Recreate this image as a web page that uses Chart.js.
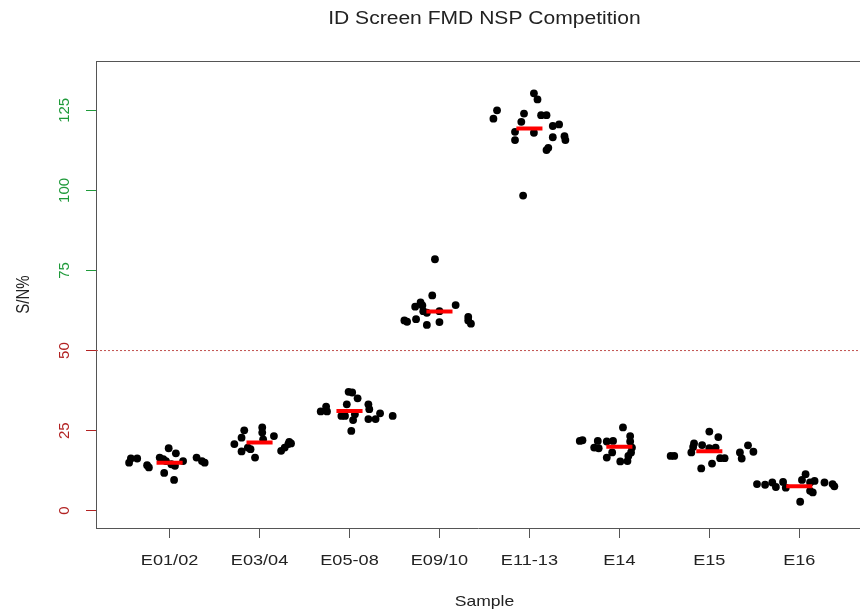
<!DOCTYPE html>
<html>
<head>
<meta charset="utf-8">
<script src="https://cdn.jsdelivr.net/npm/chart.js@4.4.0/dist/chart.umd.min.js"></script>
<style>
  html, body { margin: 0; padding: 0; background: #fff; }
  #wrap { width: 860px; height: 612px; }
</style>
</head>
<body>
<div id="wrap"><canvas id="stripChart" width="860" height="612"></canvas></div>
<script>
'use strict';

// categories and reference values
var samples = ['E01/02', 'E03/04', 'E05-08', 'E09/10', 'E11-13', 'E14', 'E15', 'E16'];
var yTicks = [0, 25, 50, 75, 100, 125];
var cutoff = 50;
var medians = [15.0, 21.3, 31.1, 62.2, 119.3, 20.0, 18.6, 7.6];

// S/N% per sample, and the horizontal jitter of each dot (in category units)
var snE0102 = [15.0, 16.3, 16.3, 14.2, 13.5, 16.6, 16.1, 15.5, 19.5, 17.9, 14.5, 14.0, 11.8, 9.6, 15.5, 16.6, 15.5, 15.0];
var jitE0102 = [-0.45, -0.43, -0.36, -0.25, -0.23, -0.11, -0.07, -0.04, -0.01, 0.07, 0.02, 0.06, -0.06, 0.05, 0.15, 0.30, 0.36, 0.39];

var snE0304 = [20.8, 22.8, 25.1, 18.5, 19.7, 19.2, 16.6, 26.0, 24.4, 22.3, 23.3, 18.7, 19.7, 20.8, 21.5, 21.0];
var jitE0304 = [-0.28, -0.20, -0.17, -0.20, -0.13, -0.10, -0.05, 0.03, 0.03, 0.04, 0.16, 0.24, 0.28, 0.32, 0.33, 0.35];

var snE0508 = [31.0, 32.5, 31.0, 33.2, 29.6, 29.6, 37.1, 36.9, 35.1, 30.1, 28.3, 24.9, 33.2, 31.7, 28.6, 28.6, 30.4, 29.6];
var jitE0508 = [-0.32, -0.26, -0.25, -0.03, -0.09, -0.05, -0.01, 0.03, 0.09, 0.06, 0.04, 0.02, 0.21, 0.22, 0.21, 0.29, 0.34, 0.48];

var snE0910 = [78.5, 67.2, 65.0, 64.1, 63.7, 62.3, 61.8, 62.3, 64.2, 59.4, 59.0, 59.8, 58.0, 58.9, 60.5, 59.4, 58.4];
var jitE0910 = [-0.05, -0.08, -0.21, -0.19, -0.27, -0.18, -0.14, 0.00, 0.18, -0.39, -0.36, -0.26, -0.14, 0.00, 0.32, 0.32, 0.35];

var snE1113 = [130.3, 128.4, 125.0, 122.4, 124.0, 121.4, 118.3, 115.7, 118.0, 123.5, 123.5, 120.1, 120.6, 116.6, 116.9, 115.7, 113.3, 112.6, 98.4];
var jitE1113 = [0.05, 0.09, -0.36, -0.40, -0.06, -0.09, -0.16, -0.16, 0.05, 0.13, 0.19, 0.26, 0.33, 0.26, 0.39, 0.40, 0.21, 0.19, -0.07];

var snE14 = [21.8, 22.0, 19.7, 21.8, 19.5, 21.6, 21.8, 18.2, 16.6, 26.0, 23.3, 21.6, 19.7, 18.2, 17.1, 15.4, 15.5];
var jitE14 = [-0.44, -0.41, -0.28, -0.24, -0.23, -0.14, -0.07, -0.08, -0.14, 0.04, 0.12, 0.12, 0.14, 0.13, 0.10, 0.01, 0.09];

var snE15 = [17.1, 17.1, 18.2, 19.9, 21.0, 20.5, 24.7, 23.0, 19.5, 19.7, 16.4, 16.4, 14.7, 13.2, 18.2, 16.3, 20.4, 18.4];
var jitE15 = [-0.43, -0.39, -0.20, -0.18, -0.17, -0.08, 0.00, 0.10, 0.00, 0.07, 0.12, 0.17, 0.03, -0.09, 0.34, 0.36, 0.43, 0.49];

var snE16 = [8.3, 8.1, 8.8, 7.4, 9.0, 7.2, 11.4, 9.6, 8.8, 9.3, 6.2, 5.7, 2.8, 8.8, 8.3, 7.6];
var jitE16 = [-0.47, -0.38, -0.30, -0.26, -0.18, -0.15, 0.07, 0.03, 0.12, 0.17, 0.12, 0.15, 0.01, 0.28, 0.37, 0.39];

var groupValues = [snE0102, snE0304, snE0508, snE0910, snE1113, snE14, snE15, snE16];
var groupJitter = [jitE0102, jitE0304, jitE0508, jitE0910, jitE1113, jitE14, jitE15, jitE16];

var FONT = '"Liberation Sans", Arial, Helvetica, sans-serif';
var RED = '#b22222';
var GREEN = '#1f9a3a';
var BOX = '#555555';
var STRETCH = 1.17;   // the reference text is drawn a bit wide
var xMin = -0.818, xMax = 7.675;
var medHalf = 0.145;

var dots = [];
for (var i = 0; i < groupValues.length; i++) {
	for (var k = 0; k < groupValues[i].length; k++) {
		dots.push({ x: i + groupJitter[i][k], y: groupValues[i][k] });
	}
}

var medianSegs = [];
medians.forEach(function (m, i) {
	medianSegs.push({ x: i - medHalf, y: m });
	medianSegs.push({ x: i + medHalf, y: m });
	medianSegs.push({ x: i + medHalf, y: null });
});

function wideText(c, txt, x, y) {
	c.save();
	c.translate(x, y);
	c.scale(STRETCH, 1);
	c.fillText(txt, 0, 0);
	c.restore();
}

// title, tick labels, axis titles and top edge of the box
var decorations = {
	id: 'decorations',
	afterDraw: function (chart) {
		var c = chart.ctx, area = chart.chartArea;
		var xs = chart.scales.x, ys = chart.scales.y;
		var boxCenter = (area.left + xs.getPixelForValue(samples.length - 1 - xMin)) / 2;
		c.save();
		c.strokeStyle = BOX;
		c.lineWidth = 1;
		c.beginPath();
		c.moveTo(area.left, Math.round(area.top) + 0.5);
		c.lineTo(area.right, Math.round(area.top) + 0.5);
		c.stroke();

		c.textAlign = 'center';
		c.textBaseline = 'middle';
		c.font = '15px ' + FONT;
		yTicks.forEach(function (v) {
			c.save();
			c.translate(65, ys.getPixelForValue(v));
			c.rotate(-Math.PI / 2);
			c.fillStyle = v > cutoff ? GREEN : RED;
			c.fillText(String(v), 0, 0);
			c.restore();
		});

		c.fillStyle = '#222';
		c.font = '15.5px ' + FONT;
		samples.forEach(function (s, i) {
			wideText(c, s, xs.getPixelForValue(i), 561);
		});

		c.font = '18px ' + FONT;
		wideText(c, 'ID Screen FMD NSP Competition', boxCenter, 19);
		c.font = '15px ' + FONT;
		wideText(c, 'Sample', boxCenter, 602);
		c.save();
		c.translate(24, (area.top + area.bottom) / 2);
		c.rotate(-Math.PI / 2);
		c.scale(1, STRETCH);
		c.fillText('S/N%', 0, 0);
		c.restore();
		c.restore();
	}
};

var ctx = document.getElementById('stripChart').getContext('2d');
var chart = new Chart(ctx, {
	type: 'scatter',
	data: {
		datasets: [{
			type: 'line',
			label: 'median',
			data: medianSegs,
			borderColor: '#ff0000',
			borderWidth: 4,
			borderCapStyle: 'butt',
			pointRadius: 0,
			spanGaps: false,
			fill: false
		}, {
			label: 'S/N%',
			data: dots,
			backgroundColor: '#000',
			borderColor: '#000',
			borderWidth: 0,
			pointRadius: 3.9,
			pointHoverRadius: 3.9
		}, {
			type: 'line',
			label: 'cutoff',
			data: [{ x: xMin, y: cutoff }, { x: xMax, y: cutoff }],
			borderColor: '#c0504d',
			borderWidth: 1,
			borderDash: [2, 2],
			pointRadius: 0,
			fill: false
		}]
	},
	options: {
		responsive: false,
		animation: false,
		events: [],
		layout: { autoPadding: false, padding: { top: 61, left: 0, right: 0, bottom: 0 } },
		plugins: {
			legend: { display: false },
			title: { display: false },
			tooltip: { enabled: false }
		},
		scales: {
			x: {
				type: 'linear',
				min: xMin,
				max: xMax,
				afterBuildTicks: function (scale) {
					scale.ticks = samples.map(function (s, i) { return { value: i }; });
				},
				afterFit: function (scale) {
					scale.height = 84;
					scale.paddingLeft = 0;
					scale.paddingRight = 0;
				},
				grid: { drawOnChartArea: false, color: BOX, tickLength: 10 },
				border: { color: BOX, width: 1 },
				ticks: { display: false }
			},
			y: {
				min: -5.4,
				max: 140.4,
				afterBuildTicks: function (scale) {
					scale.ticks = yTicks.map(function (v) { return { value: v }; });
				},
				afterFit: function (scale) {
					scale.width = 96;
					scale.paddingTop = 0;
					scale.paddingBottom = 0;
				},
				grid: {
					drawOnChartArea: false,
					tickLength: 10,
					color: function (c) { return c.tick && c.tick.value > cutoff ? GREEN : RED; }
				},
				border: { color: BOX, width: 1 },
				ticks: { display: false }
			}
		}
	},
	plugins: [decorations]
});
</script>
</body>
</html>
